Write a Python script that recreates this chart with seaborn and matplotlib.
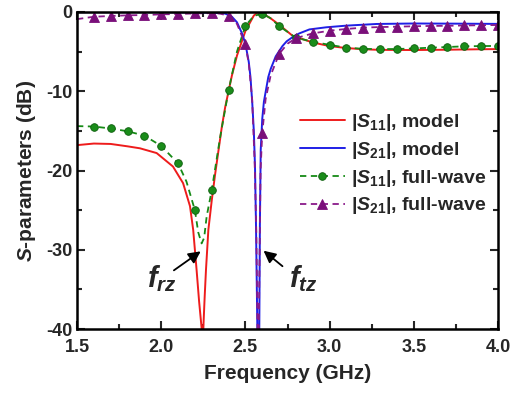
import numpy as np
import pandas as pd
import matplotlib
matplotlib.use("Agg")
import matplotlib.pyplot as plt
import seaborn as sns

# ---------------- data ----------------
f_s11_model = [1.5, 1.6, 1.7, 1.8, 1.874, 1.973, 2.07, 2.13, 2.171, 2.19, 2.21, 2.225, 2.2405,
               2.245, 2.25, 2.258, 2.266, 2.28, 2.3, 2.32, 2.34, 2.36, 2.38, 2.4, 2.42, 2.45,
               2.5, 2.55, 2.575, 2.6, 2.65, 2.7, 2.78, 2.9, 3.0, 3.1, 3.2, 3.3, 3.5, 3.7, 3.9, 4.0]
s11_model = [-16.8, -16.6, -16.65, -16.95, -17.2, -17.8, -19.5, -21.6, -24.5, -27.5, -32.5, -36.5, -40.0,
             -50.0, -40.0, -36.0, -32.5, -27.5, -23.8, -20.5, -17.5, -14.5, -12.0, -10.0, -8.0, -5.5,
             -2.4, -0.45, -0.02, -0.15, -0.8, -1.6, -3.0, -3.85, -4.3, -4.55, -4.7, -4.78, -4.8, -4.76, -4.7, -4.68]

f_s21_model = [1.5, 2.0, 2.3, 2.38, 2.42, 2.45, 2.48, 2.5, 2.52, 2.53, 2.54, 2.55, 2.557, 2.563,
               2.571, 2.577, 2.5825, 2.586, 2.591, 2.6, 2.61, 2.636, 2.65, 2.68, 2.72, 2.745, 2.785,
               2.82, 2.88, 2.98, 3.1, 3.28, 3.5, 3.75, 4.0]
s21_model = [-0.02, -0.03, -0.08, -0.2, -0.6, -1.3, -2.7, -4.0, -6.3, -8.2, -11.2, -15.0, -19.5, -27.0,
             -40.0, -55.0, -40.0, -27.0, -17.4, -13.5, -11.3, -8.2, -7.2, -5.6, -4.3, -3.7, -3.1,
             -2.7, -2.2, -1.93, -1.72, -1.51, -1.45, -1.47, -1.5]

f_s11_fw = [1.5, 1.6, 1.7, 1.8, 1.9, 2.0, 2.1, 2.15, 2.2, 2.22, 2.24, 2.255, 2.27, 2.3, 2.35, 2.4,
            2.45, 2.5, 2.55, 2.6, 2.65, 2.7, 2.8, 2.9, 3.0, 3.1, 3.2, 3.3, 3.4, 3.5, 3.6, 3.7, 3.8, 3.9, 4.0]
s11_fw = [-14.4, -14.45, -14.7, -15.05, -15.6, -16.9, -19.1, -21.4, -25.0, -27.8, -29.2, -28.5, -25.8, -22.5, -15.8, -9.9,
          -5.0, -1.75, -0.5, -0.2, -0.8, -1.77, -3.25, -3.75, -4.15, -4.5, -4.65, -4.68, -4.67, -4.6, -4.5, -4.42, -4.33, -4.3, -4.28]

f_s21_fw = [1.5, 1.6, 1.7, 1.8, 1.9, 2.0, 2.1, 2.2, 2.3, 2.35, 2.4, 2.45, 2.5, 2.52, 2.54, 2.555,
            2.565, 2.572, 2.577, 2.582, 2.59, 2.6, 2.62, 2.65, 2.7, 2.75, 2.8, 2.9, 3.0, 3.1, 3.2,
            3.3, 3.4, 3.5, 3.6, 3.7, 3.8, 3.9, 4.0]
s21_fw = [-0.9, -0.6, -0.5, -0.42, -0.38, -0.3, -0.25, -0.18, -0.15, -0.2, -0.5, -1.5, -4.1, -6.5, -11.0, -19.0,
          -28.0, -40.0, -48.0, -35.0, -20.0, -15.3, -11.0, -8.0, -5.3, -4.0, -3.3, -2.7, -2.36, -2.14, -1.97,
          -1.9, -1.85, -1.8, -1.76, -1.74, -1.7, -1.67, -1.64]

labels = [r"|$\mathit{S}_{\mathrm{11}}$|, model", r"|$\mathit{S}_{\mathrm{21}}$|, model",
          r"|$\mathit{S}_{\mathrm{11}}$|, full-wave", r"|$\mathit{S}_{\mathrm{21}}$|, full-wave"]
x_ticks = [1.5, 2.0, 2.5, 3.0, 3.5, 4.0]
y_ticks = [-40, -30, -20, -10, 0]

# ---------------- style ----------------
sns.set_theme(style="ticks")
plt.rcParams["font.family"] = ["Liberation Sans", "DejaVu Sans"]
plt.rcParams["font.weight"] = "bold"
plt.rcParams["mathtext.fontset"] = "custom"
plt.rcParams["mathtext.rm"] = "Liberation Sans:bold"
plt.rcParams["mathtext.it"] = "Liberation Sans:bold:italic"
plt.rcParams["mathtext.bf"] = "Liberation Sans:bold"
plt.rcParams["axes.unicode_minus"] = False

fig = plt.figure(figsize=(5.15, 4.01), dpi=100)
ax = fig.add_axes([77 / 515, 1 - 329 / 401, (498 - 77) / 515, (329 - 12) / 401])


def marker_idx(fs):
    return [i for i, v in enumerate(fs) if abs(v * 10 - round(v * 10)) < 1e-6 and v > 1.55]


sns.lineplot(x=f_s11_model, y=s11_model, ax=ax, color="#ee1c1c", lw=1.4, label=labels[0], sort=False)
sns.lineplot(x=f_s21_model, y=s21_model, ax=ax, color="#1f1fe6", lw=1.4, label=labels[1], sort=False)
sns.lineplot(x=f_s11_fw, y=s11_fw, ax=ax, color="#168a16", lw=1.3, linestyle=(0, (3.5, 2.5)),
             marker="o", markersize=5.5, markerfacecolor="#1a8c1a", markeredgecolor="#0d5e0d",
             markeredgewidth=0.6, markevery=marker_idx(f_s11_fw), label=labels[2], sort=False)
sns.lineplot(x=f_s21_fw, y=s21_fw, ax=ax, color="#8a1a8a", lw=1.3, linestyle=(0, (3.5, 2.5)),
             marker="^", markersize=6.5, markerfacecolor="#7a0f7a", markeredgecolor="#7a0f7a",
             markeredgewidth=0.6, markevery=marker_idx(f_s21_fw), label=labels[3], sort=False)

ax.set_xlim(1.5, 4.0)
ax.set_ylim(-40, 0)
ax.set_xticks(x_ticks)
ax.set_yticks(y_ticks)
ax.set_xticks(np.arange(1.75, 4.0, 0.5), minor=True)
ax.set_yticks(np.arange(-35, 0, 10), minor=True)
ax.tick_params(which="both", direction="in", top=True, right=True, width=1.5, labelsize=13)
ax.tick_params(which="major", length=6)
ax.tick_params(which="minor", length=3.5)
ax.tick_params(axis="x", which="major", pad=7)
for s in ax.spines.values():
    s.set_linewidth(1.8)
    s.set_color("black")
ax.set_xticklabels([f"{v:.1f}" for v in x_ticks], fontweight="bold")
ax.set_yticklabels([f"{v:d}" for v in y_ticks], fontweight="bold")

ax.set_xlabel("Frequency (GHz)", fontsize=15, fontweight="bold", labelpad=6)
ax.set_ylabel(r"$\mathit{S}$-parameters (dB)", fontsize=15, fontweight="bold", labelpad=6)

# annotations
ax.annotate("", xy=(2.248, -30.0), xytext=(2.062, -32.8),
            arrowprops=dict(arrowstyle="-|>,head_length=0.6,head_width=0.3", color="black", lw=1.3))
ax.annotate("", xy=(2.595, -29.9), xytext=(2.733, -32.3),
            arrowprops=dict(arrowstyle="-|>,head_length=0.6,head_width=0.3", color="black", lw=1.3))
ax.text(1.915, -33.6, r"$f_{rz}$", fontsize=21, ha="left", va="center")
ax.text(2.76, -33.6, r"$f_{tz}$", fontsize=21, ha="left", va="center")

leg = ax.legend(loc="center left", bbox_to_anchor=(0.53, 0.52), frameon=False, fontsize=14,
                handlelength=2.3, handletextpad=0.3, labelspacing=0.35, borderpad=0, borderaxespad=0)
for t in leg.get_texts():
    t.set_fontweight("bold")

fig.savefig("out.png", dpi=100)
